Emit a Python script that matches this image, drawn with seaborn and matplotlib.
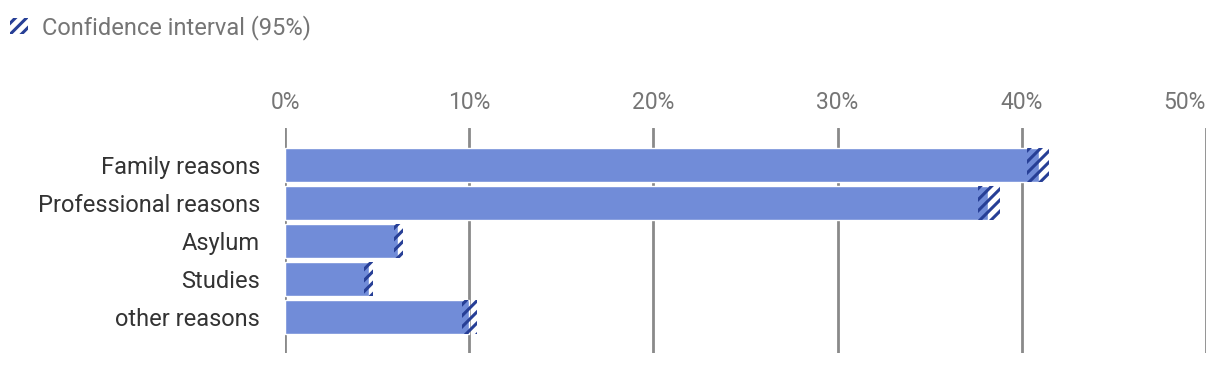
import matplotlib
matplotlib.use("Agg")
import matplotlib.pyplot as plt
import seaborn as sns
import pandas as pd
from matplotlib.patches import Patch

categories = ["Family reasons", "Professional reasons", "Asylum", "Studies", "other reasons"]
estimate = [40.95, 38.15, 6.15, 4.55, 10.0]
ci_low = [40.3, 37.6, 5.9, 4.3, 9.6]
ci_high = [41.5, 38.8, 6.4, 4.8, 10.4]
x_ticks = [0, 10, 20, 30, 40, 50]
x_tick_labels = ["0%", "10%", "20%", "30%", "40%", "50%"]
legend_label = "Confidence interval (95%)"

BAR = "#718cd8"
NAVY = "#273f96"
GRID = "#8a8a8a"
TICK = "#757575"
LABEL = "#333333"

sns.set_theme(style="white")
plt.rcParams["font.family"] = ["Roboto", "DejaVu Sans"]
plt.rcParams["hatch.linewidth"] = 2.2

df = pd.DataFrame({"category": categories, "value": estimate})

fig = plt.figure(figsize=(12.2, 3.66), dpi=100)
ax = fig.add_axes([285 / 1220, 1 - 353 / 366, (1206 - 285) / 1220, (353 - 128) / 366])

sns.barplot(data=df, x="value", y="category", orient="h", color=BAR,
            saturation=1, width=0.9, ax=ax, zorder=3)

ypos = list(range(len(categories)))
widths = [h - l for l, h in zip(ci_low, ci_high)]
ax.barh(ypos, widths, left=ci_low, height=0.9, fill=False, hatch="///",
        edgecolor=NAVY, linewidth=0, zorder=4)

ax.set_xlim(0, 50)
ax.set_ylim(4.96, -0.98)
ax.set_xticks(x_ticks)
ax.set_xticklabels(x_tick_labels)
ax.xaxis.tick_top()
ax.tick_params(axis="x", length=0, pad=10, labelsize=16.5, labelcolor=TICK)
ax.tick_params(axis="y", length=0, pad=18, labelsize=17, labelcolor=LABEL)
ax.get_xticklabels()[-1].set_horizontalalignment("right")
ax.get_xticklabels()[-1].set_x(50.1)
ax.set_xlabel("")
ax.set_ylabel("")
for s in ax.spines.values():
    s.set_visible(False)
for x in x_ticks:
    ax.axvline(x, color=GRID, linewidth=2, zorder=1)

handle = Patch(facecolor="white", edgecolor=NAVY, hatch="///", linewidth=0)
fig.legend([handle], [legend_label], loc="upper left",
           bbox_to_anchor=(10 / 1220, 1 - 15 / 366),
           frameon=False, fontsize=17, labelcolor=TICK, handlelength=0.75,
           handleheight=0.65, handletextpad=0.6, borderaxespad=0, borderpad=0)

fig.savefig("out.png", dpi=100)
